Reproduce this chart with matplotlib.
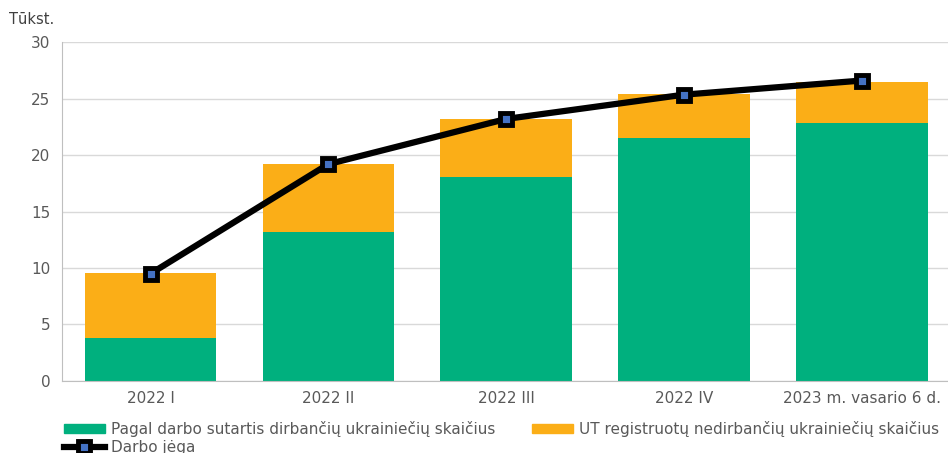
import matplotlib.pyplot as plt
from matplotlib.lines import Line2D
from matplotlib.patches import Patch
import numpy as np

plt.rcParams['font.family'] = ['DejaVu Sans']

categories = ['2022 I', '2022 II', '2022 III', '2022 IV', '2023 m. vasario 6 d.']
employed = [3.8, 13.2, 18.1, 21.5, 22.8]
unemployed = [5.8, 6.0, 5.1, 3.9, 3.7]
labour_force = [9.5, 19.2, 23.2, 25.35, 26.6]

green = '#00B07E'
orange = '#FBAE17'
grey = '#595959'

fig = plt.figure(figsize=(9.48, 4.53), dpi=100)
ax = fig.add_axes([0.065, 0.159, 0.938, 0.748])

x = np.arange(len(categories))
ax.bar(x, employed, width=0.74, color=green, zorder=2)
ax.bar(x, unemployed, width=0.74, bottom=employed, color=orange, zorder=2)
ax.plot(x, labour_force, color='black', lw=4.5, marker='s', markersize=8,
        markerfacecolor='#4472C4', markeredgecolor='black', markeredgewidth=3.5, zorder=3)

ax.set_xlim(-0.5, 4.5)
ax.set_ylim(0, 30)
ax.set_yticks(range(0, 31, 5))
ax.set_xticks(x)
ax.set_xticklabels(categories)
ax.tick_params(axis='both', length=0, colors=grey, labelsize=11)
ax.tick_params(axis='x', pad=7)
ax.tick_params(axis='y', pad=8)
ax.grid(axis='y', color='#d9d9d9', lw=1, zorder=0)
for s in ['top', 'right']:
    ax.spines[s].set_visible(False)
for s in ['left', 'bottom']:
    ax.spines[s].set_color('#bfbfbf')

fig.text(0.009, 0.957, 'Tūkst.', fontsize=10.5, color='#404040', va='center')

handles = [Patch(color=green), Line2D([], [], color='black', lw=4.5, marker='s', markersize=8,
                                     markerfacecolor='#4472C4', markeredgecolor='black',
                                     markeredgewidth=3.5),
           Patch(color=orange)]
labels = ['Pagal darbo sutartis dirbančių ukrainiečių skaičius', 'Darbo jėga',
          'UT registruotų nedirbančių ukrainiečių skaičius']
leg = fig.legend(handles, labels, ncol=2, loc='upper left', bbox_to_anchor=(0.059, 0.088),
                 frameon=False, fontsize=11, handlelength=2.7, handleheight=0.6,
                 handletextpad=0.4, columnspacing=2.4, labelspacing=0.2, borderpad=0)
for t in leg.get_texts():
    t.set_color(grey)

fig.savefig('out.png', dpi=100)
